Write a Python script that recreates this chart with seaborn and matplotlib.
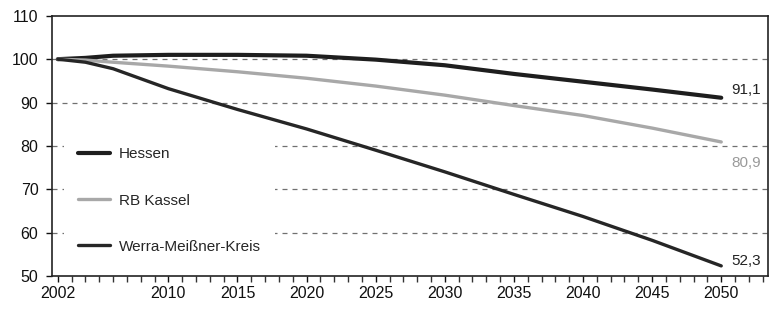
import pandas as pd
import seaborn as sns
import matplotlib.pyplot as plt

# Bevölkerungsentwicklung (Index 2002 = 100)
jahre = [2002, 2004, 2006, 2010, 2015, 2020, 2025, 2030, 2035, 2040, 2045, 2050]
hessen = [100, 100.3, 100.8, 101.0, 101.0, 100.8, 99.9, 98.6, 96.6, 94.8, 93.0, 91.1]
rb_kassel = [100, 99.8, 99.3, 98.4, 97.1, 95.6, 93.8, 91.7, 89.3, 87.0, 84.1, 80.9]
werra_meissner = [100, 99.3, 97.8, 93.2, 88.4, 83.9, 79.0, 74.0, 68.8, 63.7, 58.2, 52.3]

serien = ['Hessen', 'RB Kassel', 'Werra-Meißner-Kreis']
endwerte = ['91,1', '80,9', '52,3']
x_labels = [2002, 2010, 2015, 2020, 2025, 2030, 2035, 2040, 2045, 2050]

df = pd.DataFrame({
    'jahr': jahre * 3,
    'wert': hessen + rb_kassel + werra_meissner,
    'region': [serien[0]] * len(jahre) + [serien[1]] * len(jahre) + [serien[2]] * len(jahre),
})

sns.set_style("ticks")
plt.rcParams['font.family'] = ['Liberation Sans', 'DejaVu Sans']

fig = plt.figure(figsize=(7.69, 3.11), dpi=100)
ax = fig.add_axes([0.068, 0.113, 0.931, 0.836])

farben = {'Hessen': '#1e1e1e', 'RB Kassel': '#a8a8a8', 'Werra-Meißner-Kreis': '#262626'}
breiten = {'Hessen': 3.0, 'RB Kassel': 2.4, 'Werra-Meißner-Kreis': 2.4}

# gestrichelte Hilfslinien
for y in [60, 70, 80, 90, 100]:
    ax.axhline(y, color='#707070', lw=0.9, ls=(0, (4, 4)), zorder=0)

for region in serien:
    sns.lineplot(data=df[df['region'] == region], x='jahr', y='wert', ax=ax,
                 color=farben[region], lw=breiten[region], label=region, zorder=3)

# Endwerte rechts
ax.text(2051.8, 92.8, endwerte[0], color='#222222', fontsize=11, ha='center', va='center')
ax.text(2051.8, 76.0, endwerte[1], color='#9a9a9a', fontsize=11, ha='center', va='center')
ax.text(2051.8, 53.5, endwerte[2], color='#222222', fontsize=11, ha='center', va='center')

ax.set_xlim(2001.6, 2053.4)
ax.set_ylim(50, 110)
ax.set_yticks(range(50, 111, 10))
ax.set_xticks(x_labels)
ax.set_xticks(range(2002, 2054), minor=True)
ax.tick_params(axis='both', labelsize=11.5, colors='#111111', length=4, width=1)
ax.tick_params(axis='y', pad=6)
ax.tick_params(axis='x', which='minor', length=4, width=1, color='#333333')
ax.set_xlabel('')
ax.set_ylabel('')
for s in ax.spines.values():
    s.set_visible(True)
    s.set_color('#222222')
    s.set_linewidth(1.2)

leg = ax.legend(loc='lower left', bbox_to_anchor=(0.01, 0.015), frameon=True,
                facecolor='white', edgecolor='none', framealpha=1,
                fontsize=11, labelspacing=2.1, handlelength=2.1,
                handletextpad=0.6, borderpad=0.9, borderaxespad=0.3)
leg.set_zorder(2)

fig.savefig('out.png', dpi=100)
